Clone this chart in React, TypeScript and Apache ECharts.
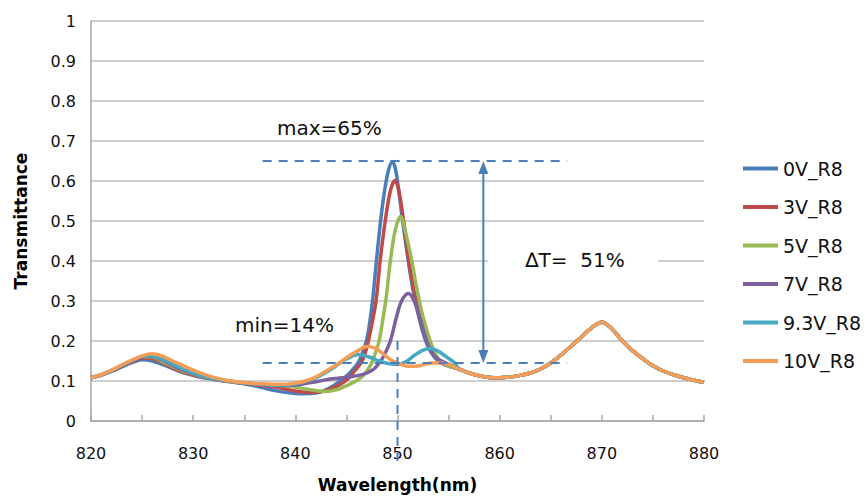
import React, { useEffect, useRef } from "react";
import * as echarts from "echarts";

const seriesNames = ["0V_R8", "3V_R8", "5V_R8", "7V_R8", "9.3V_R8", "10V_R8"];
const seriesColors = ["#4A7EBB", "#BE4B48", "#98B954", "#7D60A0", "#46AAC5", "#F59D56"];
const xTicks = [820, 830, 840, 850, 860, 870, 880];

const rightTail: number[][] = [
  [856, 0.13], [857, 0.12], [858, 0.113], [859, 0.109], [860, 0.108], [861, 0.11], [862, 0.114],
  [863, 0.12], [864, 0.13], [865, 0.145], [866, 0.165], [867, 0.187], [868, 0.21], [869, 0.233],
  [870, 0.247], [871, 0.23], [872, 0.2], [873, 0.176], [874, 0.156], [875, 0.138], [876, 0.125],
  [877, 0.116], [878, 0.108], [879, 0.102], [880, 0.097],
];

const v0: number[][] = [
  [820, 0.108], [821, 0.115], [822, 0.124], [823, 0.135], [824, 0.146], [825, 0.153], [826, 0.15],
  [827, 0.141], [828, 0.131], [829, 0.121], [830, 0.114], [831, 0.108], [832, 0.104], [833, 0.1],
  [834, 0.097], [835, 0.093], [836, 0.088], [837, 0.082], [838, 0.076], [839, 0.072], [840, 0.069],
  [841, 0.068], [842, 0.07], [843, 0.078], [844, 0.093], [845, 0.112], [845.6, 0.128], [846.2, 0.148],
  [846.6, 0.172], [847, 0.205], [847.3, 0.25], [847.6, 0.31], [847.9, 0.39], [848.3, 0.49],
  [848.7, 0.57], [849.1, 0.625], [849.5, 0.649], [849.8, 0.63], [850.1, 0.58], [850.5, 0.5],
  [851, 0.41], [851.5, 0.33], [852, 0.27], [852.5, 0.22], [853, 0.185], [853.6, 0.16], [854.2, 0.146],
  [855, 0.137],
];

const v3: number[][] = [
  [820, 0.108], [821, 0.115], [822, 0.125], [823, 0.137], [824, 0.148], [825, 0.157], [826, 0.156],
  [827, 0.145], [828, 0.133], [829, 0.122], [830, 0.115], [831, 0.109], [832, 0.104], [833, 0.1],
  [834, 0.097], [835, 0.094], [836, 0.091], [837, 0.088], [838, 0.085], [839, 0.08], [840, 0.075],
  [841, 0.072], [842, 0.072], [843, 0.076], [844, 0.086], [845, 0.102], [845.8, 0.125], [846.5, 0.148],
  [847, 0.185], [847.4, 0.23], [847.9, 0.3], [848.3, 0.4], [848.8, 0.5], [849.3, 0.575],
  [849.75, 0.601], [850.1, 0.58], [850.6, 0.5], [851.1, 0.4], [851.6, 0.33], [852.1, 0.27],
  [852.6, 0.225], [853.1, 0.19], [853.7, 0.162], [854.3, 0.146], [855, 0.138],
];

const v5: number[][] = [
  [820, 0.108], [821, 0.115], [822, 0.126], [823, 0.138], [824, 0.15], [825, 0.16], [826, 0.16],
  [827, 0.148], [828, 0.136], [829, 0.125], [830, 0.117], [831, 0.11], [832, 0.105], [833, 0.101],
  [834, 0.098], [835, 0.095], [836, 0.093], [837, 0.092], [838, 0.09], [839, 0.088], [840, 0.085],
  [841, 0.08], [842, 0.076], [843, 0.074], [844, 0.078], [845, 0.088], [845.8, 0.098], [846.5, 0.11],
  [847, 0.125], [847.5, 0.146], [847.9, 0.175], [848.2, 0.2], [848.6, 0.26], [848.9, 0.31],
  [849.3, 0.4], [849.8, 0.48], [850.3, 0.511], [850.8, 0.47], [851.4, 0.4], [851.9, 0.33],
  [852.5, 0.26], [853.2, 0.2], [853.7, 0.168], [854.3, 0.148], [855, 0.138],
];

const v7: number[][] = [
  [820, 0.108], [821, 0.115], [822, 0.126], [823, 0.138], [824, 0.15], [825, 0.16], [826, 0.162],
  [827, 0.152], [828, 0.139], [829, 0.127], [830, 0.118], [831, 0.111], [832, 0.106], [833, 0.102],
  [834, 0.098], [835, 0.095], [836, 0.093], [837, 0.091], [838, 0.089], [839, 0.089], [840, 0.09],
  [841, 0.094], [842.4, 0.1], [843.4, 0.105], [844.5, 0.108], [845.3, 0.11], [846.2, 0.114],
  [847, 0.12], [847.7, 0.13], [848.3, 0.148], [848.8, 0.17], [849.3, 0.2], [849.9, 0.26],
  [850.4, 0.3], [851.05, 0.319], [851.6, 0.302], [852.2, 0.255], [852.85, 0.2], [853.4, 0.17],
  [853.9, 0.155], [854.5, 0.148], [855.2, 0.14],
];

const v93: number[][] = [
  [820, 0.108], [821, 0.116], [822, 0.126], [823, 0.139], [824, 0.151], [825, 0.162], [826, 0.163],
  [827, 0.154], [828, 0.142], [829, 0.13], [830, 0.12], [831, 0.112], [832, 0.106], [833, 0.102],
  [834, 0.098], [835, 0.095], [836, 0.093], [837, 0.091], [838, 0.089], [839, 0.09], [840, 0.093],
  [841, 0.099], [842, 0.108], [843, 0.122], [844, 0.138], [845, 0.155], [846.2, 0.166], [847.2, 0.16],
  [848.2, 0.15], [849.2, 0.143], [850, 0.141], [850.8, 0.148], [851.6, 0.163], [852.4, 0.176],
  [853.2, 0.181], [854, 0.174], [854.8, 0.16], [855.6, 0.145],
];

const v10: number[][] = [
  [820, 0.108], [821, 0.116], [822, 0.127], [823, 0.14], [824, 0.152], [825, 0.163], [826, 0.168],
  [827, 0.162], [828, 0.15], [829, 0.139], [830, 0.127], [831, 0.117], [832, 0.109], [833, 0.103],
  [834, 0.099], [835, 0.096], [836, 0.094], [837, 0.093], [838, 0.092], [839, 0.092], [840, 0.095],
  [841, 0.1], [842, 0.11], [843, 0.125], [844, 0.14], [845, 0.158], [846, 0.174], [847, 0.186],
  [847.8, 0.182], [848.6, 0.168], [849.4, 0.152], [850.2, 0.143], [851, 0.137], [851.8, 0.137],
  [852.6, 0.141], [853.4, 0.145], [854.2, 0.145], [855, 0.142],
];

const seriesData = [v0, v3, v5, v7, v93, v10];

// annotation anchors (data space)
const maxLevel = 0.65;
const minLevel = 0.145;
const dashStartX = 836.8;
const dashEndX = 866.6;
const peakX = 850;
const arrowX = 858.4;

const FONT = "DejaVu Sans";

export default function App() {
  const ref = useRef<HTMLDivElement>(null);
  useEffect(() => {
    document.body.style.margin = "0";
    const chart = echarts.init(ref.current!, null, { renderer: "svg" });
    chart.setOption({
      animation: false,
      backgroundColor: "#ffffff",
      grid: { left: 91, right: 162, top: 21, bottom: 77, containLabel: false, outerBoundsMode: "none" },
      legend: {
        orient: "vertical",
        left: 738,
        top: 154,
        icon: "rect",
        itemWidth: 35,
        itemHeight: 4,
        itemGap: 19.5,
        data: seriesNames,
        textStyle: { fontFamily: FONT, fontSize: 19, color: "#111", padding: [0, 0, 0, 0] },
      },
      xAxis: {
        type: "value",
        min: 820,
        max: 880,
        interval: 5,
        name: "Wavelength(nm)",
        nameLocation: "middle",
        nameGap: 55,
        nameTextStyle: { fontFamily: FONT, fontSize: 17, fontWeight: "bold", color: "#000" },
        axisLine: { show: true, lineStyle: { color: "#a6a6a6", width: 1.5 } },
        axisTick: { show: true, inside: true, length: 6, lineStyle: { color: "#a6a6a6", width: 1.5 } },
        splitLine: { show: false },
        axisLabel: {
          margin: 24,
          fontFamily: FONT,
          fontSize: 16,
          color: "#111",
          formatter: (v: number) => (xTicks.includes(v) ? String(v) : ""),
        },
      },
      yAxis: {
        type: "value",
        min: 0,
        max: 1,
        interval: 0.1,
        name: "Transmittance",
        nameLocation: "middle",
        nameGap: 62,
        nameTextStyle: { fontFamily: FONT, fontSize: 17, fontWeight: "bold", color: "#000" },
        axisLine: { show: true, lineStyle: { color: "#a6a6a6", width: 1.5 } },
        axisTick: { show: false },
        splitLine: { show: true, lineStyle: { color: "#bfbfbf", width: 1.5 } },
        axisLabel: {
          margin: 15,
          fontFamily: FONT,
          fontSize: 16,
          color: "#111",
          formatter: (v: number) => String(Math.round(v * 10) / 10),
        },
      },
      series: seriesNames.map((name, i) => ({
        name,
        type: "line",
        data: seriesData[i].concat(rightTail),
        smooth: 0.35,
        symbol: "none",
        color: seriesColors[i],
        lineStyle: { width: 3.5, color: seriesColors[i] },
      })),
    });

    const p = (x: number, y: number) => chart.convertToPixel({ gridIndex: 0 }, [x, y]) as number[];
    const blue = "#4A7EBB";
    const dashStyle = { stroke: blue, lineWidth: 2, lineDash: [9, 7] };
    const t1 = p(dashStartX, maxLevel);
    const t2 = p(dashEndX, maxLevel);
    const b1 = p(dashStartX, minLevel);
    const b2 = p(dashEndX, minLevel);
    const vTop = p(peakX, 0.2);
    const vBot = p(peakX, -0.1);
    const aTop = p(arrowX, maxLevel);
    const aBot = p(arrowX, minLevel);
    const boxL = p(858.85, 0.43);
    const boxR = p(875.5, 0.375);
    const maxTxt = p(838.2, 0.732);
    const minTxt = p(834.1, 0.241);
    const dTxt = p(862.5, 0.403);
    const headH = 13;
    const headW = 5;
    const textStyle = { fontFamily: FONT, fontSize: 20, fill: "#111" };

    chart.setOption({
      graphic: [
        { type: "line", shape: { x1: t1[0], y1: t1[1], x2: t2[0], y2: t2[1] }, style: dashStyle, z: 10 },
        { type: "line", shape: { x1: b1[0], y1: b1[1], x2: b2[0], y2: b2[1] }, style: dashStyle, z: 10 },
        { type: "line", shape: { x1: vTop[0], y1: vTop[1], x2: vBot[0], y2: vBot[1] }, style: dashStyle, z: 10 },
        {
          type: "line",
          shape: { x1: aTop[0], y1: aTop[1] + headH - 2, x2: aBot[0], y2: aBot[1] - headH + 2 },
          style: { stroke: blue, lineWidth: 2 },
          z: 10,
        },
        {
          type: "polygon",
          shape: { points: [[aTop[0], aTop[1]], [aTop[0] - headW, aTop[1] + headH], [aTop[0] + headW, aTop[1] + headH]] },
          style: { fill: blue },
          z: 10,
        },
        {
          type: "polygon",
          shape: { points: [[aBot[0], aBot[1]], [aBot[0] - headW, aBot[1] - headH], [aBot[0] + headW, aBot[1] - headH]] },
          style: { fill: blue },
          z: 10,
        },
        {
          type: "rect",
          shape: { x: boxL[0], y: boxL[1], width: boxR[0] - boxL[0], height: boxR[1] - boxL[1] },
          style: { fill: "#ffffff" },
          z: 9,
        },
        { type: "text", x: maxTxt[0], y: maxTxt[1], style: { ...textStyle, text: "max=65%", verticalAlign: "middle" }, z: 11 },
        { type: "text", x: minTxt[0], y: minTxt[1], style: { ...textStyle, text: "min=14%", verticalAlign: "middle" }, z: 11 },
        { type: "text", x: dTxt[0], y: dTxt[1], style: { ...textStyle, text: "\u2206T=  51%", verticalAlign: "middle" }, z: 11 },
      ],
    });
    return () => chart.dispose();
  }, []);
  return <div ref={ref} style={{ width: 866, height: 498 }} />;
}
